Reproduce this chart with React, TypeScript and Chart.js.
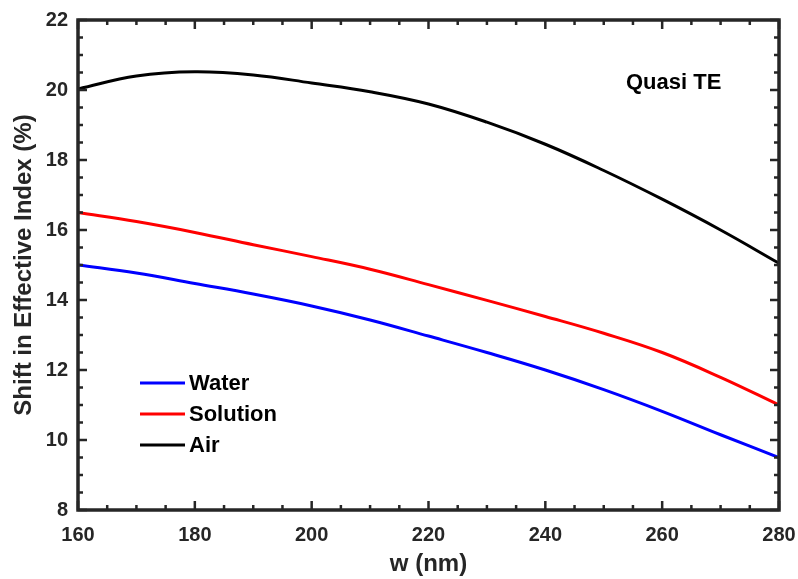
import React, { useEffect, useRef } from "react";
import { Chart, registerables } from "chart.js";

Chart.register(...registerables);

const wValues = [160, 170, 180, 190, 200, 210, 220, 230, 240, 250, 260, 270, 280];
const waterValues = [15.0, 14.77, 14.47, 14.17, 13.83, 13.43, 12.97, 12.5, 12.0, 11.44, 10.82, 10.15, 9.5];
const solutionValues = [16.5, 16.24, 15.93, 15.58, 15.24, 14.88, 14.44, 13.99, 13.53, 13.05, 12.5, 11.79, 11.0];
const airValues = [20.03, 20.4, 20.52, 20.43, 20.2, 19.95, 19.6, 19.08, 18.45, 17.7, 16.88, 16.0, 15.05];
const xTicks = [160, 180, 200, 220, 240, 260, 280];
const yTicks = [8, 10, 12, 14, 16, 18, 20, 22];

const AXIS = "#262626";
const FONT = "'Liberation Sans', Arial, sans-serif";

const boxPlugin = {
  id: "boxTicks",
  afterDatasetsDraw(chart: any) {
    const { ctx, chartArea, scales } = chart;
    const { left, right, top, bottom } = chartArea;
    ctx.save();
    ctx.strokeStyle = AXIS;
    ctx.lineWidth = 2.5;
    for (let v = 160; v <= 280; v += 5) {
      const px = scales.x.getPixelForValue(v);
      const len = v % 20 === 0 ? 9 : 5;
      ctx.beginPath();
      ctx.moveTo(px, bottom);
      ctx.lineTo(px, bottom - len);
      ctx.moveTo(px, top);
      ctx.lineTo(px, top + len);
      ctx.stroke();
    }
    for (let v = 8; v <= 22; v += 0.5) {
      const py = scales.y.getPixelForValue(v);
      const len = v % 2 === 0 ? 9 : 5;
      ctx.beginPath();
      ctx.moveTo(left, py);
      ctx.lineTo(left + len, py);
      ctx.moveTo(right, py);
      ctx.lineTo(right - len, py);
      ctx.stroke();
    }
    ctx.lineWidth = 3.5;
    ctx.strokeRect(left, top, right - left, bottom - top);

    // legend
    ctx.font = `bold 22px ${FONT}`;
    ctx.textBaseline = "middle";
    ctx.textAlign = "left";
    chart.data.datasets.forEach((ds: any, i: number) => {
      const y = 383 + i * 31;
      ctx.strokeStyle = ds.borderColor;
      ctx.lineWidth = 3;
      ctx.beginPath();
      ctx.moveTo(140, y);
      ctx.lineTo(185, y);
      ctx.stroke();
      ctx.fillStyle = "#000";
      ctx.fillText(ds.label, 189, y + 1);
    });
    ctx.font = `bold 22px ${FONT}`;
    ctx.fillStyle = "#000";
    ctx.fillText("Quasi TE", 626, 83);
    ctx.restore();
  },
};

export default function App() {
  const ref = useRef<HTMLCanvasElement>(null);
  useEffect(() => {
    document.body.style.margin = "0";
    const canvas = ref.current!;
    const chart = new Chart(canvas, {
      type: "line",
      data: {
        labels: wValues,
        datasets: [
          { label: "Water", data: wValues.map((x, i) => ({ x, y: waterValues[i] })), borderColor: "#0000ff" },
          { label: "Solution", data: wValues.map((x, i) => ({ x, y: solutionValues[i] })), borderColor: "#ff0000" },
          { label: "Air", data: wValues.map((x, i) => ({ x, y: airValues[i] })), borderColor: "#000000" },
        ].map((d) => ({
          ...d,
          borderWidth: 3,
          pointRadius: 0,
          fill: false,
          tension: 0.4,
        })),
      },
      options: {
        animation: false,
        responsive: false,
        maintainAspectRatio: false,
        layout: { padding: { top: 20, right: 19, left: 0, bottom: 0 } },
        plugins: { legend: { display: false }, tooltip: { enabled: false } },
        scales: {
          x: {
            type: "linear",
            min: 160,
            max: 280,
            afterFit: (s: any) => { s.height = 69; s.paddingLeft = 0; s.paddingRight = 0; },
            afterBuildTicks: (s: any) => { s.ticks = xTicks.map((v) => ({ value: v })); },
            grid: { display: false, drawTicks: false },
            border: { display: false },
            ticks: { color: AXIS, font: { family: FONT, size: 20, weight: "bold" }, padding: 13, maxRotation: 0 },
            title: { display: true, text: "w (nm)", color: AXIS, font: { family: FONT, size: 24, weight: "bold" }, padding: { top: 0, bottom: 0 } },
          },
          y: {
            type: "linear",
            min: 8,
            max: 22,
            afterFit: (s: any) => { s.width = 78; s.paddingTop = 0; s.paddingBottom = 0; },
            afterBuildTicks: (s: any) => { s.ticks = yTicks.map((v) => ({ value: v })); },
            grid: { display: false, drawTicks: false },
            border: { display: false },
            ticks: { color: AXIS, font: { family: FONT, size: 20, weight: "bold" }, padding: 10 },
            title: { display: true, text: "Shift in Effective Index (%)", color: AXIS, font: { family: FONT, size: 24, weight: "bold" }, padding: { top: 10, bottom: 0 } },
          },
        },
      },
      plugins: [boxPlugin],
    });
    return () => chart.destroy();
  }, []);
  return <canvas ref={ref} width={798} height={579} style={{ display: "block" }} />;
}
